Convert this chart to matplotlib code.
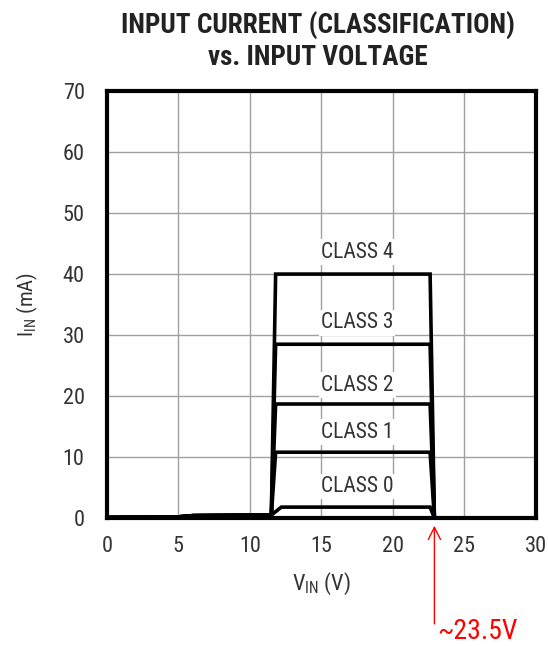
import matplotlib
matplotlib.use("Agg")
import matplotlib.pyplot as plt

plt.rcParams["font.family"] = ["Roboto Condensed", "DejaVu Sans"]
plt.rcParams["mathtext.fontset"] = "custom"
plt.rcParams["mathtext.rm"] = "Roboto Condensed"

# data
vin_base = [0, 5, 6, 11.5]
iin_base = [0.1, 0.2, 0.4, 0.5]
classes = ["CLASS 0", "CLASS 1", "CLASS 2", "CLASS 3", "CLASS 4"]
levels = [1.8, 10.8, 18.7, 28.5, 40.0]
vin_edges = [[12.2, 22.6, 22.9, 30], [11.8, 22.6, 22.9, 30], [11.8, 22.6, 22.9, 30],
             [11.8, 22.6, 22.9, 30], [11.8, 22.6, 22.9, 30]]
label_y = [5.2, 14.1, 21.8, 32.0, 43.6]
label_x = 17.5
xticks = [0, 5, 10, 15, 20, 25, 30]
yticks = [0, 10, 20, 30, 40, 50, 60, 70]

fig = plt.figure(figsize=(5.48, 6.46), dpi=100)
ax = fig.add_axes([0.195, 0.198, 0.783, 0.661])

for lvl, ve in zip(levels, vin_edges):
    xs = vin_base + ve
    ys = iin_base + [lvl, lvl, 0, 0]
    ax.plot(xs, ys, color="black", lw=2.6, solid_joinstyle="miter", zorder=3)

for nm, ly in zip(classes, label_y):
    ax.text(label_x, ly, nm, ha="center", va="center", fontsize=15.5, color="#333333",
            bbox=dict(facecolor="white", edgecolor="none", pad=1.5), zorder=2)

ax.set_xlim(0, 30)
ax.set_ylim(0, 70)
ax.set_xticks(xticks)
ax.set_yticks(yticks)
ax.grid(True, color="#a0a0a0", lw=1)
ax.set_axisbelow(True)
ax.tick_params(length=0, labelsize=16, labelcolor="#333333")
ax.tick_params(axis="x", pad=13)
ax.tick_params(axis="y", pad=16)
for s in ax.spines.values():
    s.set_linewidth(3)
ax.set_xlabel(r"V$_{\mathregular{IN}}$ (V)", fontsize=16, color="#333333", labelpad=10)
ax.set_ylabel(r"I$_{\mathregular{IN}}$ (mA)", fontsize=15, color="#333333", labelpad=16)

fig.text(0.58, 0.936, "INPUT CURRENT (CLASSIFICATION)\nvs. INPUT VOLTAGE", ha="center", va="center",
         fontsize=19.5, fontweight="black", color="#222222", linespacing=1.18)

# red marker for the drop-off voltage
ax.annotate("", xy=(22.9, -0.8), xytext=(22.9, -17.8), annotation_clip=False,
            arrowprops=dict(arrowstyle="->", color="red", lw=1, mutation_scale=22))
fig.text(0.797, 0.022, "~23.5V", color="red", fontsize=20, ha="left", va="center")

fig.savefig("out.png", dpi=100)
